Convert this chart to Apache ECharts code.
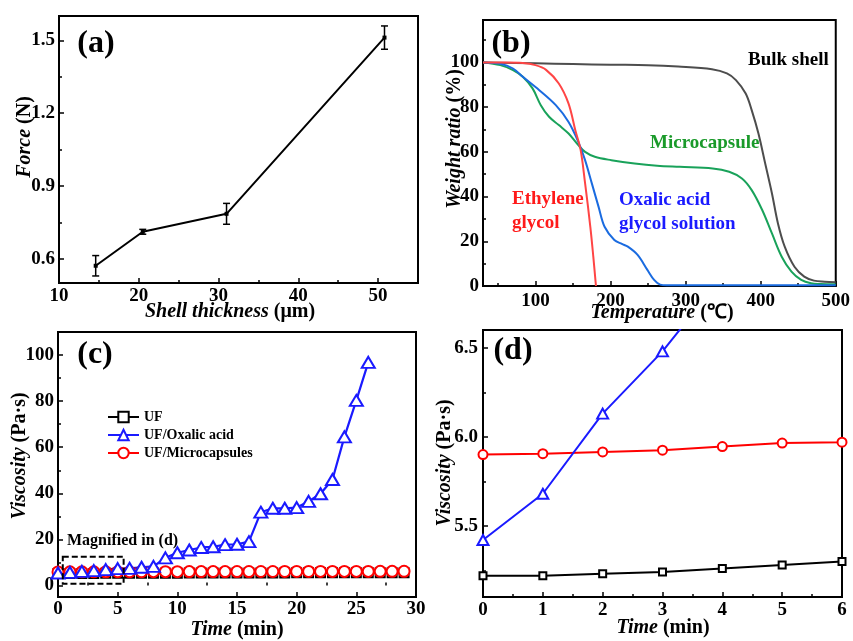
<!DOCTYPE html>
<html>
<head>
<meta charset="utf-8">
<script src="https://cdn.jsdelivr.net/npm/echarts@6/dist/echarts.min.js"></script>
<style>html,body{margin:0;padding:0;background:#fff}#c{width:853px;height:641px}</style>
</head>
<body>
<div id="c"></div>
<script>
// ---------- Panel (a) ----------
const thickness = [14.6, 20.5, 31.0, 50.8];
const force = [0.571, 0.711, 0.785, 1.511];
const forceErr = [0.042, 0.010, 0.043, 0.048];
const aXTicks = [10, 20, 30, 40, 50];
const aXMinor = [15, 25, 35, 45];
const aYTicks = [0.6, 0.9, 1.2, 1.5];
const aYMinor = [0.75, 1.05, 1.35];

// ---------- Panel (b) ----------
const bulkT = [30, 100, 150, 200, 250, 290, 335, 355, 367, 380, 388, 397, 406, 415, 423, 432, 445, 458, 471, 485, 500];
const bulkW = [100, 99.6, 99.3, 99.0, 98.8, 98.2, 97.0, 95.1, 92.1, 86.1, 78.7, 68.2, 54.8, 41.4, 28.0, 17.6, 8.6, 4.2, 2.4, 1.9, 1.7];
const ethT = [30, 60, 83, 100, 114, 131, 144, 153, 160, 166, 173, 177, 180.5];
const ethW = [100, 100, 99.8, 98.8, 96.7, 90.6, 81.6, 69.7, 61.0, 46.0, 26.5, 13.0, 0];
const oxT = [30, 53, 70, 83, 105, 127, 144, 157, 166, 175, 184, 192, 205, 215, 223, 236, 249, 258, 266, 275, 300, 400, 500];
const oxW = [100, 99.4, 97.3, 93.6, 87.6, 80.9, 73.4, 64.5, 56.3, 45.9, 35.4, 26.5, 20.6, 18.8, 17.6, 13.9, 7.2, 2.7, 0.6, 0.3, 0.3, 0.3, 0.3];
const micT = [30, 53, 70, 83, 96, 107, 118, 131, 144, 157, 166, 179, 201, 232, 262, 292, 336, 358, 375, 388, 402, 415, 428, 441, 454, 467, 480, 500];
const micW = [100, 98.8, 96.6, 93.6, 88.4, 80.9, 75.7, 72.0, 68.2, 63.0, 60.0, 57.8, 56.3, 54.8, 53.8, 53.3, 52.6, 51.1, 48.1, 42.9, 34.0, 23.5, 13.1, 6.4, 2.7, 1.2, 0.9, 0.8];
const bXTicks = [100, 200, 300, 400, 500];
const bXMinor = [50, 150, 250, 350, 450];
const bYTicks = [0, 20, 40, 60, 80, 100];
const bYMinor = [10, 30, 50, 70, 90, 110];

// ---------- Panels (c) & (d) ----------
const timeUF = [0,1,2,3,4,5,6,7,8,9,10,11,12,13,14,15,16,17,18,19,20,21,22,23,24,25,26,27,28,29];
const viscUF = [5.22,5.22,5.23,5.24,5.26,5.28,5.30,5.31,5.33,5.34,5.35,5.37,5.38,5.39,5.40,5.42,5.43,5.44,5.45,5.46,5.47,5.49,5.50,5.51,5.52,5.53,5.54,5.55,5.56,5.57];
const viscMic = [5.90,5.905,5.915,5.925,5.945,5.965,5.97,5.98,5.99,6.00,6.01,6.02,6.02,6.03,6.04,6.05,6.05,6.06,6.07,6.08,6.08,6.09,6.10,6.10,6.11,6.12,6.12,6.13,6.14,6.15];
const timeOx = [0,1,2,3,4,5,6,7,8,9,10,11,12,13,14,15,16,17,18,19,20,21,22,23,24,25,26];
const viscOx = [5.42,5.68,6.13,6.48,6.9,7.3,7.4,7.9,8.3,12.0,14.2,15.4,16.5,16.8,17.7,17.9,19.0,31.8,33.5,33.5,33.8,36.5,39.8,46.0,64.5,80.3,96.8];
const zoomBox = [[0.4, 12.5, 5.5, 0.8]];
const cXTicks = [0, 5, 10, 15, 20, 25, 30];
const cXMinor = [2.5, 7.5, 12.5, 17.5, 22.5, 27.5];
const cYTicks = [0, 20, 40, 60, 80, 100];
const cYMinor = [10, 30, 50, 70, 90];
const dXTicks = [0, 1, 2, 3, 4, 5, 6];
const dXMinor = [0.5, 1.5, 2.5, 3.5, 4.5, 5.5];
const dYTicks = [5.5, 6.0, 6.5];
const dYMinor = [5.25, 5.75, 6.25];

const FONT = "'Liberation Serif','Times New Roman',serif";

function pairs(xs, ys) { return xs.slice(0, ys.length).map((x, i) => [x, ys[i]]); }

function mainAxis(grid, min, max, ticks, margin, dec, pos) {
  return {
    type: 'value', gridIndex: grid, min: min, max: max, position: pos,
    axisLine: { show: true, onZero: false, lineStyle: { color: '#000', width: 2 } },
    axisTick: { show: true, inside: true, length: 5, customValues: ticks, lineStyle: { color: '#000', width: 1.5 } },
    axisLabel: { show: true, margin: margin, color: '#000', fontFamily: FONT, fontWeight: 'bold', fontSize: 19,
      customValues: ticks, formatter: v => Number(v).toFixed(dec) },
    splitLine: { show: false }
  };
}
function minorAxis(grid, min, max, ticks, pos) {
  return {
    type: 'value', gridIndex: grid, min: min, max: max, position: pos,
    axisLine: { show: false }, axisLabel: { show: false }, splitLine: { show: false },
    axisTick: { show: true, inside: true, length: 3, customValues: ticks, lineStyle: { color: '#000', width: 1.5 } }
  };
}

const gridStyle = { show: true, borderColor: '#000', borderWidth: 2, backgroundColor: 'transparent' };

function txt(x, y, text, opts) {
  return Object.assign({ type: 'text', x: x, y: y, silent: true,
    style: Object.assign({ text: text, fontFamily: FONT, fontWeight: 'bold', fontSize: 19, fill: '#000',
      align: 'left', verticalAlign: 'top' }, opts.style || {}) }, opts.el || {});
}
function richTitle(x, y, it, rest, rot) {
  return {
    type: 'text', x: x, y: y, rotation: rot ? Math.PI / 2 : 0, silent: true,
    style: {
      text: '{i|' + it + '}{n| ' + rest + '}', align: 'center', verticalAlign: 'middle',
      rich: {
        i: { fontFamily: FONT, fontWeight: 'bold', fontStyle: 'italic', fontSize: 20, fill: '#000' },
        n: { fontFamily: FONT, fontWeight: 'bold', fontSize: 20, fill: '#000' }
      }
    }
  };
}

const chart = echarts.init(document.getElementById('c'), null, { renderer: 'canvas' });
chart.setOption({
  animation: false,
  backgroundColor: '#fff',
  grid: [
    Object.assign({ left: 59, right: 435, top: 16, bottom: 358 }, gridStyle),
    Object.assign({ left: 483, right: 12, top: 20, bottom: 355 }, gridStyle),
    Object.assign({ left: 58, right: 437, top: 332, bottom: 44 }, gridStyle),
    Object.assign({ left: 483, right: 11, top: 330, bottom: 44 }, gridStyle)
  ],
  xAxis: [
    mainAxis(0, 10, 55, aXTicks, 4, 0, 'bottom'), minorAxis(0, 10, 55, aXMinor, 'bottom'),
    mainAxis(1, 30, 500, bXTicks, 6, 0, 'bottom'), minorAxis(1, 30, 500, bXMinor, 'bottom'),
    mainAxis(2, 0, 30, cXTicks, 3, 0, 'bottom'), minorAxis(2, 0, 30, cXMinor, 'bottom'),
    mainAxis(3, 0, 6, dXTicks, 4, 0, 'bottom'), minorAxis(3, 0, 6, dXMinor, 'bottom')
  ],
  yAxis: [
    mainAxis(0, 0.5, 1.6, aYTicks, 4, 1, 'left'), minorAxis(0, 0.5, 1.6, aYMinor, 'left'),
    mainAxis(1, 0, 119, bYTicks, 4, 0, 'left'), minorAxis(1, 0, 119, bYMinor, 'left'),
    mainAxis(2, -5, 110, cYTicks, 4, 0, 'left'), minorAxis(2, -5, 110, cYMinor, 'left'),
    mainAxis(3, 5.1, 6.6, dYTicks, 5, 1, 'left'), minorAxis(3, 5.1, 6.6, dYMinor, 'left')
  ],
  legend: {
    orient: 'vertical', left: 102, top: 405, itemWidth: 31, itemHeight: 13, itemGap: 4,
    data: ['UF', 'UF/Oxalic acid', 'UF/Microcapsules'],
    textStyle: { fontFamily: FONT, fontWeight: 'bold', fontSize: 14, color: '#000' }
  },
  series: [
    // (a)
    { type: 'line', xAxisIndex: 0, yAxisIndex: 0, data: pairs(thickness, force), symbol: 'rect', symbolSize: 4,
      lineStyle: { color: '#000', width: 2 }, itemStyle: { color: '#000' } },
    { type: 'custom', xAxisIndex: 0, yAxisIndex: 0,
      data: thickness.map((x, i) => [x, force[i] - forceErr[i], force[i] + forceErr[i]]),
      encode: { x: 0, y: [1, 2] },
      renderItem: function (params, api) {
        const x = api.value(0);
        const p1 = api.coord([x, api.value(2)]), p2 = api.coord([x, api.value(1)]);
        const w = 3.5, st = { stroke: '#000', lineWidth: 1.5 };
        return { type: 'group', children: [
          { type: 'line', shape: { x1: p1[0], y1: p1[1], x2: p2[0], y2: p2[1] }, style: st },
          { type: 'line', shape: { x1: p1[0] - w, y1: p1[1], x2: p1[0] + w, y2: p1[1] }, style: st },
          { type: 'line', shape: { x1: p2[0] - w, y1: p2[1], x2: p2[0] + w, y2: p2[1] }, style: st }
        ] };
      } },
    // (b)
    { type: 'line', name: 'Bulk shell', xAxisIndex: 2, yAxisIndex: 2, data: pairs(bulkT, bulkW), smooth: 0.35,
      showSymbol: false, lineStyle: { color: '#4d4d4d', width: 2 } },
    { type: 'line', name: 'Microcapsule', xAxisIndex: 2, yAxisIndex: 2, data: pairs(micT, micW), smooth: 0.35,
      showSymbol: false, lineStyle: { color: '#19a25a', width: 2 } },
    { type: 'line', name: 'Oxalic acid glycol solution', xAxisIndex: 2, yAxisIndex: 2, data: pairs(oxT, oxW), smooth: 0.35,
      showSymbol: false, lineStyle: { color: '#1a6be0', width: 2 } },
    { type: 'line', name: 'Ethylene glycol', xAxisIndex: 2, yAxisIndex: 2, data: pairs(ethT, ethW), smooth: 0.35,
      showSymbol: false, lineStyle: { color: '#ff4545', width: 2 } },
    // (c)
    { type: 'line', name: 'UF', xAxisIndex: 4, yAxisIndex: 4, data: pairs(timeUF, viscUF), symbol: 'emptyRect', symbolSize: 9,
      color: '#000', lineStyle: { width: 2 }, itemStyle: { borderWidth: 1.5 } },
    { type: 'line', name: 'UF/Microcapsules', xAxisIndex: 4, yAxisIndex: 4, data: pairs(timeUF, viscMic), symbol: 'emptyCircle', symbolSize: 11,
      color: '#ff0000', lineStyle: { width: 2 }, itemStyle: { borderWidth: 1.5 } },
    { type: 'line', name: 'UF/Oxalic acid', xAxisIndex: 4, yAxisIndex: 4, data: pairs(timeOx, viscOx), symbol: 'emptyTriangle', symbolSize: [13, 11],
      color: '#1a1aff', lineStyle: { width: 2.2 }, itemStyle: { borderWidth: 1.5 } },
    { type: 'custom', xAxisIndex: 4, yAxisIndex: 4, data: zoomBox, silent: true, z: 5,
      renderItem: function (params, api) {
        const p1 = api.coord([api.value(0), api.value(1)]), p2 = api.coord([api.value(2), api.value(3)]);
        return { type: 'rect', shape: { x: p1[0], y: p1[1], width: p2[0] - p1[0], height: p2[1] - p1[1] },
          style: { fill: 'none', stroke: '#000', lineWidth: 2, lineDash: [6, 3] } };
      } },
    // (d)
    { type: 'line', name: 'UF', xAxisIndex: 6, yAxisIndex: 6, data: pairs(timeUF, viscUF), symbol: 'emptyRect', symbolSize: 7,
      color: '#000', lineStyle: { width: 2 }, itemStyle: { borderWidth: 1.3 } },
    { type: 'line', name: 'UF/Microcapsules', xAxisIndex: 6, yAxisIndex: 6, data: pairs(timeUF, viscMic), symbol: 'emptyCircle', symbolSize: 9,
      color: '#ff0000', lineStyle: { width: 2 }, itemStyle: { borderWidth: 1.3 } },
    { type: 'line', name: 'UF/Oxalic acid', xAxisIndex: 6, yAxisIndex: 6, data: pairs(timeOx, viscOx), symbol: 'emptyTriangle', symbolSize: [11, 10],
      color: '#1a1aff', lineStyle: { width: 2 }, itemStyle: { borderWidth: 1.3 } }
  ],
  graphic: [
    txt(96, 43.5, '(a)', { style: { fontSize: 32, align: 'center', verticalAlign: 'middle' } }),
    txt(511, 43.5, '(b)', { style: { fontSize: 32, align: 'center', verticalAlign: 'middle' } }),
    txt(95, 355, '(c)', { style: { fontSize: 32, align: 'center', verticalAlign: 'middle' } }),
    txt(513, 351, '(d)', { style: { fontSize: 32, align: 'center', verticalAlign: 'middle' } }),
    txt(748, 51, 'Bulk shell', { style: {} }),
    txt(650, 134, 'Microcapsule', { style: { fill: '#1a9a2a' } }),
    txt(512, 187, 'Ethylene\nglycol', { style: { fill: '#ff1a1a', lineHeight: 24 } }),
    txt(619, 188, 'Oxalic acid\nglycol solution', { style: { fill: '#1a1aff', lineHeight: 24 } }),
    txt(67, 541, 'Magnified in (d)', { style: { fontSize: 16, verticalAlign: 'middle' } }),
    richTitle(230, 312, 'Shell thickness', '(\u03bcm)', false),
    richTitle(25, 137, 'Force', '(N)', true),
    richTitle(662, 313, 'Temperature', '(\u2103)', false),
    richTitle(455, 139, 'Weight ratio', '(%)', true),
    richTitle(237, 630, 'Time', '(min)', false),
    richTitle(20, 456, 'Viscosity', '(Pa\u00b7s)', true),
    richTitle(663, 628, 'Time', '(min)', false),
    richTitle(445, 463, 'Viscosity', '(Pa\u00b7s)', true)
  ]
});
</script>
</body>
</html>
